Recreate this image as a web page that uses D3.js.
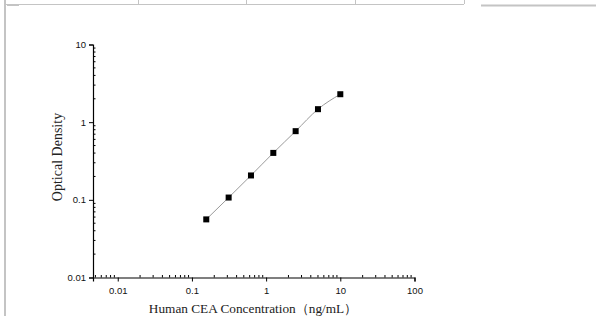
<!DOCTYPE html>
<html>
<head>
<meta charset="utf-8">
<script src="https://cdn.jsdelivr.net/npm/d3@7"></script>
<style>
	body { margin: 0; background: #fff; }
	svg { display: block; }
</style>
</head>
<body>
<div id="chart"></div>
<script>
// standard curve data
var concentrations = [0.156, 0.3125, 0.625, 1.25, 2.5, 5, 10];
var densities = [0.056, 0.107, 0.206, 0.402, 0.766, 1.47, 2.29];
var xTickValues = [0.01, 0.1, 1, 10, 100];
var yTickValues = [0.01, 0.1, 1, 10];
var xTitle = "Human CEA Concentration\uFF08ng/mL\uFF09";
var yTitle = "Optical Density";

var width = 596, height = 316;

var svg = d3.select("#chart")
	.append("svg")
	.attr("width", width)
	.attr("height", height);

// table borders left over around the picture
var border = svg.append("g")
	.attr("stroke", "#c4c4c4")
	.attr("fill", "none");
border.append("line").attr("x1", 5).attr("x2", 5).attr("y1", 0).attr("y2", height).attr("stroke-width", 2);
border.append("line").attr("x1", 5).attr("x2", 464).attr("y1", 4.5).attr("y2", 4.5).attr("stroke-width", 1.2);
border.append("line").attr("x1", 481).attr("x2", width).attr("y1", 5.5).attr("y2", 5.5).attr("stroke-width", 2);
border.append("line").attr("x1", 7).attr("x2", 19).attr("y1", 5.5).attr("y2", 5.5).attr("stroke-width", 1);
[138, 246, 355, 464].forEach(function(x){
	border.append("line").attr("x1", x + 0.5).attr("x2", x + 0.5).attr("y1", 0).attr("y2", 4).attr("stroke-width", 1);
});

var x = d3.scaleLog()
	.domain([0.00464, 100])
	.range([93, 414.5]);

var y = d3.scaleLog()
	.domain([0.01, 10])
	.range([277.5, 44.5]);

function minorTicks(lo, hi){
	var out = [];
	for (var e = Math.floor(Math.log10(lo)); e < Math.ceil(Math.log10(hi)); e++){
		for (var k = 2; k <= 9; k++){
			var v = k * Math.pow(10, e);
			if (v > lo && v < hi) out.push(v);
		}
	}
	return out;
}

// x axis
var xAxis = svg.append("g")
	.attr("transform", "translate(0," + y(0.01) + ")")
	.call(d3.axisBottom(x).tickValues(xTickValues).tickFormat(d3.format("~g")).tickSize(4).tickPadding(6));
xAxis.append("g")
	.selectAll("line")
	.data(minorTicks(0.00464, 100))
	.enter()
	.append("line")
	.attr("x1", function(d){ return x(d); })
	.attr("x2", function(d){ return x(d); })
	.attr("y1", 0)
	.attr("y2", -2.5)
	.attr("stroke", "#000");

// y axis
var yAxis = svg.append("g")
	.attr("transform", "translate(" + x.range()[0] + ",0)")
	.call(d3.axisLeft(y).tickValues(yTickValues).tickFormat(d3.format("~g")).tickSize(4).tickPadding(3));
yAxis.append("g")
	.selectAll("line")
	.data(minorTicks(0.01, 10))
	.enter()
	.append("line")
	.attr("y1", function(d){ return y(d); })
	.attr("y2", function(d){ return y(d); })
	.attr("x1", 0)
	.attr("x2", 2.5)
	.attr("stroke", "#000");

svg.selectAll(".domain").attr("stroke", "#000").attr("stroke-width", 1.2);
svg.selectAll(".tick line").attr("stroke", "#000");
svg.selectAll(".tick text")
	.attr("font-family", "'Liberation Sans', Arial, sans-serif")
	.attr("font-size", 9.5)
	.attr("fill", "#111");

// axis titles
svg.append("text")
	.attr("x", 253)
	.attr("y", 313)
	.attr("text-anchor", "middle")
	.attr("font-family", "'Liberation Serif', 'Times New Roman', serif")
	.attr("font-size", 13.3)
	.attr("fill", "#222")
	.text(xTitle);

svg.append("text")
	.attr("transform", "translate(62,157) rotate(-90)")
	.attr("text-anchor", "middle")
	.attr("font-family", "'Liberation Serif', 'Times New Roman', serif")
	.attr("font-size", 14)
	.attr("fill", "#222")
	.text(yTitle);

// curve + points
var pts = concentrations.map(function(c, i){ return [c, densities[i]]; });

var line = d3.line()
	.x(function(d){ return x(d[0]); })
	.y(function(d){ return y(d[1]); })
	.curve(d3.curveMonotoneX);

svg.append("path")
	.datum(pts)
	.attr("d", line)
	.attr("fill", "none")
	.attr("stroke", "#9a9a9a")
	.attr("stroke-width", 1);

svg.selectAll("rect.pt")
	.data(pts)
	.enter()
	.append("rect")
	.attr("class", "pt")
	.attr("x", function(d){ return x(d[0]) - 3; })
	.attr("y", function(d){ return y(d[1]) - 3; })
	.attr("width", 6)
	.attr("height", 6)
	.attr("fill", "#000");
</script>
</body>
</html>
